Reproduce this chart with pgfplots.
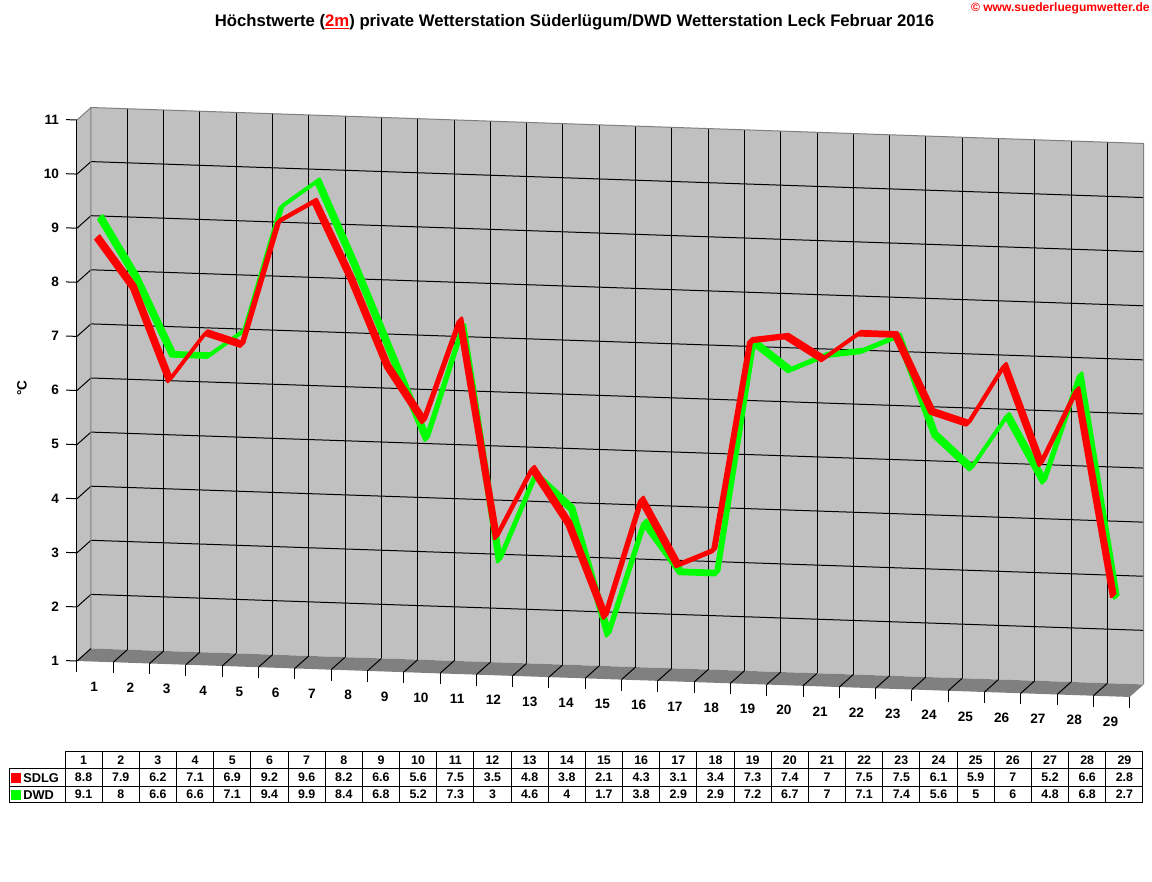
\documentclass[border=0pt]{standalone}
\usepackage{pgfplots}
\usepackage{pgfplotstable}
\pgfplotsset{compat=1.18}
\usepackage{fontspec}
\setmainfont{Liberation Sans}

\definecolor{wall}{RGB}{192,192,192}
\definecolor{floorc}{RGB}{128,128,128}
\definecolor{sdlg}{RGB}{255,0,0}
\definecolor{dwd}{RGB}{0,255,0}

% Hoechstwerte Februar 2016, SDLG = Suederluegum, DWD = Leck
\pgfplotstableread{
day sdlg dwd
1 8.8 9.1
2 7.9 8
3 6.2 6.6
4 7.1 6.6
5 6.9 7.1
6 9.2 9.4
7 9.6 9.9
8 8.2 8.4
9 6.6 6.8
10 5.6 5.2
11 7.5 7.3
12 3.5 3
13 4.8 4.6
14 3.8 4
15 2.1 1.7
16 4.3 3.8
17 3.1 2.9
18 3.4 2.9
19 7.3 7.2
20 7.4 6.7
21 7 7
22 7.5 7.1
23 7.5 7.4
24 6.1 5.6
25 5.9 5
26 7 6
27 5.2 4.8
28 6.6 6.8
29 2.8 2.7
}\datatable

\begin{document}
\begin{tikzpicture}
\useasboundingbox (0,0) rectangle (576pt,-441pt);

\begin{axis}[
    at={(38.5pt,-330.5pt)}, anchor=origin,
    x={(18.15pt,-0.62pt)}, y={(0pt,27.05pt)},
    disabledatascaling,
    xmin=0.5, xmax=29.5, ymin=1, ymax=11,
    clip=false,
    axis line style={draw=none},
    xtick={1,...,29}, ytick={1,...,11},
    xtick pos=lower, ytick pos=left,
    tick align=outside,
    major tick length=5.5pt,
    x tick style={draw=none},
    y tick style={black, line width=0.5pt},
    /pgf/number format/assume math mode=true,
    ticklabel style={font=\fontsize{6.8}{7}\selectfont\bfseries},
    xticklabel style={anchor=center, yshift=-7pt, xshift=-0.5pt},
    yticklabel style={anchor=east, xshift=0pt},
]
% walls and floor
\fill[wall, xshift=7pt, yshift=6.25pt] (axis cs:0.5,1) -- (axis cs:29.5,1) -- (axis cs:29.5,11) -- (axis cs:0.5,11) -- cycle;
\fill[wall] (axis cs:0.5,1) -- (axis cs:0.5,11) -- ([shift={(7pt,6.25pt)}]axis cs:0.5,11) -- ([shift={(7pt,6.25pt)}]axis cs:0.5,1) -- cycle;
\fill[floorc] (axis cs:0.5,1) -- (axis cs:29.5,1) -- ([shift={(7pt,6.25pt)}]axis cs:29.5,1) -- ([shift={(7pt,6.25pt)}]axis cs:0.5,1) -- cycle;

% grid on back wall
\pgfplotsinvokeforeach{2,...,10}{
  \draw[black, line width=0.5pt, xshift=7pt, yshift=6.25pt] (axis cs:0.5,#1) -- (axis cs:29.5,#1);
  \draw[black, line width=0.5pt] (axis cs:0.5,#1) -- ([shift={(7pt,6.25pt)}]axis cs:0.5,#1);
}
\pgfplotsinvokeforeach{1.5,2.5,...,28.5}{
  \draw[black, line width=0.5pt, xshift=7pt, yshift=6.25pt] (axis cs:#1,1) -- (axis cs:#1,11);
  \draw[black, line width=0.5pt] (axis cs:#1,1) -- ([shift={(7pt,6.25pt)}]axis cs:#1,1);
}
\pgfplotsinvokeforeach{0.5,1.5,...,29.5}{
  \draw[black, line width=0.5pt] (axis cs:#1,1) -- ++(0pt,-5.5pt);
}
% edges
\draw[floorc, line width=0.5pt, xshift=7pt, yshift=6.25pt] (axis cs:0.5,1) -- (axis cs:0.5,11) -- (axis cs:29.5,11) -- (axis cs:29.5,1);
\draw[floorc, line width=0.5pt] (axis cs:0.5,11) -- ([shift={(7pt,6.25pt)}]axis cs:0.5,11);
\draw[black, line width=0.5pt] (axis cs:0.5,1) -- (axis cs:0.5,11);
\draw[black, line width=0.5pt] (axis cs:0.5,1) -- ([shift={(7pt,6.25pt)}]axis cs:0.5,1);

% series as ribbons
\pgfplotsinvokeforeach{0,...,4}{
  \addplot[dwd, line width=1.5pt, line join=round, mark=none,
    xshift=1.5pt+#1*0.45pt, yshift=2.5pt+#1*0.45pt] table[x=day, y=dwd] {\datatable};
}
\pgfplotsinvokeforeach{0,...,4}{
  \addplot[sdlg, line width=1.5pt, line join=round, mark=none,
    xshift=#1*0.45pt, yshift=0.5pt+#1*0.45pt] table[x=day, y=sdlg] {\datatable};
}
\end{axis}

\begin{scope}[x=0.5pt, y=-0.5pt]
\node[font=\fontsize{8.35}{10}\selectfont\bfseries] at (574.5,22)
  {Höchstwerte (\textcolor{sdlg}{\underline{2m}}) private Wetterstation Süderlügum/DWD Wetterstation Leck Februar 2016};
\node[anchor=east, text=sdlg, font=\fontsize{6.05}{7}\selectfont\bfseries, inner sep=0pt] at (1150,8)
  {© www.suederluegumwetter.de};
\node[rotate=90, font=\fontsize{6.8}{7}\selectfont\bfseries] at (22,388) {°C};

% data table
\def\tw{37.172}
\draw[line width=0.5pt] (65,751) -- (1143,751);
\draw[line width=0.5pt] (9,768) -- (1143,768);
\draw[line width=0.5pt] (9,786) -- (1143,786);
\draw[line width=0.5pt] (9,802) -- (1143,802);
\draw[line width=0.5pt] (9,768) -- (9,802);
\foreach \k in {0,...,29} {
  \draw[line width=0.5pt] ({65+\tw*\k},751) -- ({65+\tw*\k},802);
}
\fill[sdlg] (11,773) rectangle (21,783);
\fill[dwd] (11,790) rectangle (21,800);
\node[anchor=west, inner sep=0pt, font=\fontsize{6.4}{7}\selectfont\bfseries] at (23,778) {SDLG};
\node[anchor=west, inner sep=0pt, font=\fontsize{6.4}{7}\selectfont\bfseries] at (23,795) {DWD};
\foreach \i in {0,...,28} {
  \pgfmathsetmacro\cx{65+\tw*(\i+0.5)}
  \pgfplotstablegetelem{\i}{day}\of\datatable
  \node[font=\fontsize{6.2}{6.5}\selectfont\bfseries] at (\cx,760) {\pgfplotsretval};
  \pgfplotstablegetelem{\i}{sdlg}\of\datatable
  \node[font=\fontsize{6.2}{6.5}\selectfont\bfseries] at (\cx,777.5) {\pgfplotsretval};
  \pgfplotstablegetelem{\i}{dwd}\of\datatable
  \node[font=\fontsize{6.2}{6.5}\selectfont\bfseries] at (\cx,794.5) {\pgfplotsretval};
}
\end{scope}
\end{tikzpicture}
\end{document}
